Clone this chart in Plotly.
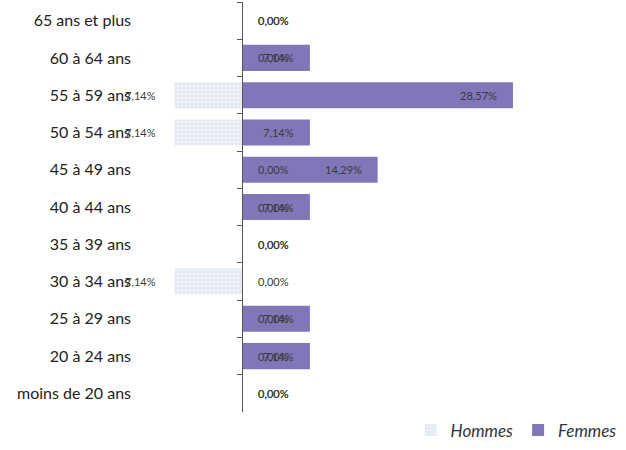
import plotly.graph_objects as go

# Age brackets, top to bottom
categories = ["65 ans et plus", "60 à 64 ans", "55 à 59 ans", "50 à 54 ans",
              "45 à 49 ans", "40 à 44 ans", "35 à 39 ans", "30 à 34 ans",
              "25 à 29 ans", "20 à 24 ans", "moins de 20 ans"]
# Share of total headcount (%)
hommes = [0.00, 0.00, 7.14, 7.14, 0.00, 0.00, 0.00, 7.14, 0.00, 0.00, 0.00]
femmes = [0.00, 7.14, 28.57, 7.14, 14.29, 7.14, 0.00, 0.00, 7.14, 7.14, 0.00]

FONT = "Lato"
x_min, x_max = -11, 31


def fmt(v):
    return f"{v:.2f}%".replace(".", ",")


fig = go.Figure()

fig.add_trace(go.Bar(
    name="Hommes", y=categories, x=[-v for v in hommes], orientation="h",
    yaxis="y2",
    marker=dict(color="#edf1f7", line=dict(width=0),
                pattern=dict(shape=".", fgcolor="#cdd6e4", size=4, solidity=0.35)),
    hoverinfo="skip",
))
fig.add_trace(go.Bar(
    name="Femmes", y=categories, x=femmes, orientation="h",
    marker=dict(color="#8177b8", line=dict(width=0)),
    hoverinfo="skip",
))

annotations = []
label_font = dict(family=FONT, size=11, color="#3a3a3a")
for cat, h, f in zip(categories, hommes, femmes):
    if h > 0:
        annotations.append(dict(x=-h, y=cat, xref="x", yref="y", text=fmt(h),
                                showarrow=False, xanchor="right", xshift=-17,
                                font=label_font))
    else:
        annotations.append(dict(x=0, y=cat, xref="x", yref="y", text=fmt(h),
                                showarrow=False, xanchor="left", xshift=14,
                                font=label_font))
    if f > 0:
        annotations.append(dict(x=f, y=cat, xref="x", yref="y", text=fmt(f),
                                showarrow=False, xanchor="right", xshift=-14,
                                font=label_font))
    else:
        annotations.append(dict(x=0, y=cat, xref="x", yref="y", text=fmt(f),
                                showarrow=False, xanchor="left", xshift=14,
                                font=label_font))

cat_axis = dict(type="category", categoryorder="array", categoryarray=categories,
                range=[len(categories) - 0.5, -0.5])
zero_pos = (0 - x_min) / (x_max - x_min)

fig.update_layout(
    width=626, height=450,
    margin=dict(l=138, r=90, t=2, b=28),
    paper_bgcolor="white", plot_bgcolor="white",
    barmode="relative", bargap=0.3,
    font=dict(family=FONT, color="#222222"),
    xaxis=dict(range=[x_min, x_max], visible=False, domain=[0, 1]),
    yaxis=dict(**cat_axis, showline=False, ticks="", showgrid=False,
               tickfont=dict(family=FONT, size=16, color="#222222"),
               ticklabelstandoff=6),
    yaxis2=dict(**cat_axis, overlaying="y", anchor="free", position=zero_pos,
                side="left", showline=True, linecolor="#555555", linewidth=1,
                ticks="outside", ticklen=5, tickwidth=1, tickcolor="#555555",
                tickson="boundaries", showticklabels=False, showgrid=False),
    showlegend=True,
    legend=dict(orientation="h", x=1.215, xanchor="right", y=-0.045, yanchor="middle",
                font=dict(family=FONT, size=17, color="#333333", style="italic"),
                itemwidth=30, bgcolor="rgba(0,0,0,0)"),
    annotations=annotations,
)

fig.write_html("out.html")
